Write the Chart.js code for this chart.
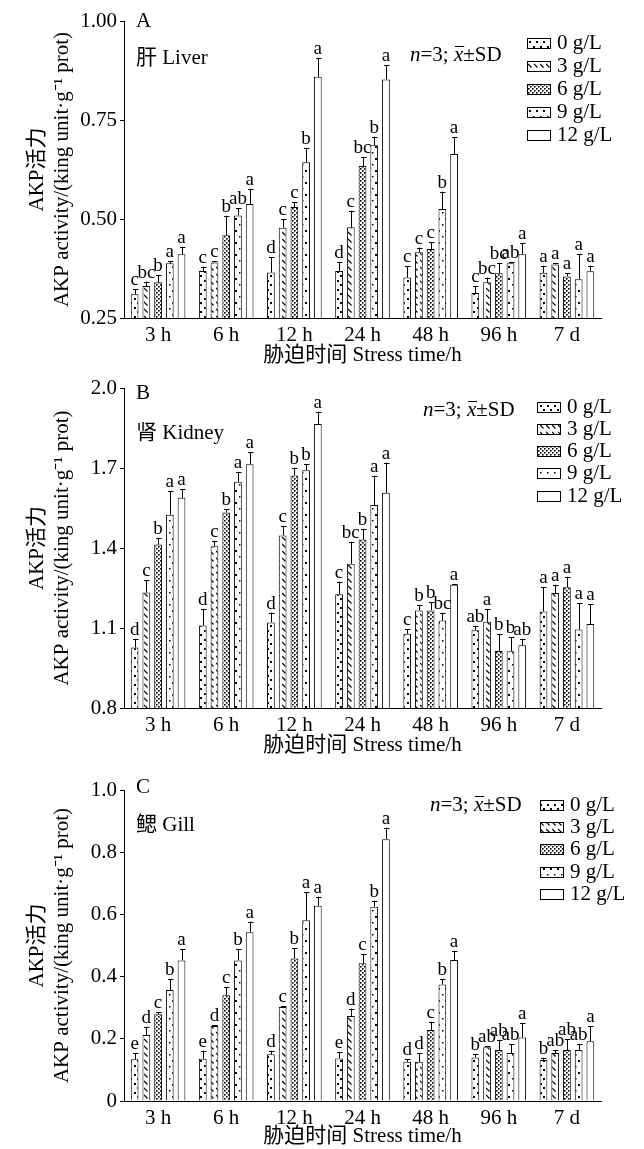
<!DOCTYPE html>
<html>
<head>
<meta charset="utf-8">
<script src="https://cdn.jsdelivr.net/npm/chart.js@4"></script>
<style>
    body { margin: 0; background: #fff; width: 644px; height: 1149px; position: relative; overflow: hidden; }
    canvas { position: absolute; left: 0; }
</style>
</head>
<body>
<canvas id="chartA" width="644" height="368" style="top:0px"></canvas>
<canvas id="chartB" width="644" height="390" style="top:368px"></canvas>
<canvas id="chartC" width="644" height="391" style="top:758px"></canvas>
<script>
var timeLabels = ['3 h', '6 h', '12 h', '24 h', '48 h', '96 h', '7 d'];
var doseLabels = ['0 g/L', '3 g/L', '6 g/L', '9 g/L', '12 g/L'];

// rows = dose (0, 3, 6, 9, 12 g/L), columns = stress time
var liverMean = [
    [0.310, 0.369, 0.365, 0.369, 0.352, 0.313, 0.364],
    [0.331, 0.390, 0.478, 0.479, 0.416, 0.340, 0.385],
    [0.340, 0.459, 0.530, 0.634, 0.424, 0.363, 0.355],
    [0.388, 0.509, 0.643, 0.686, 0.525, 0.388, 0.348],
    [0.411, 0.538, 0.859, 0.852, 0.664, 0.411, 0.368]
];
var liverSD = [
    [0.012, 0.011, 0.038, 0.023, 0.029, 0.018, 0.018],
    [0.011, 0.004, 0.022, 0.042, 0.012, 0.012, 0.004],
    [0.018, 0.049, 0.012, 0.022, 0.017, 0.025, 0.008],
    [0.005, 0.018, 0.037, 0.022, 0.044, 0.004, 0.063],
    [0.019, 0.038, 0.048, 0.037, 0.042, 0.029, 0.014]
];
var liverSig = [
    ['c', 'c', 'd', 'd', 'c', 'c', 'a'],
    ['bc', 'c', 'c', 'c', 'c', 'bc', 'a'],
    ['b', 'b', 'c', 'bc', 'c', 'bc', 'a'],
    ['a', 'ab', 'b', 'b', 'b', 'ab', 'a'],
    ['a', 'a', 'a', 'a', 'a', 'a', 'a']
];

var kidneyMean = [
    [1.027, 1.109, 1.121, 1.227, 1.078, 1.092, 1.162],
    [1.233, 1.407, 1.447, 1.341, 1.166, 1.123, 1.231],
    [1.413, 1.533, 1.672, 1.432, 1.166, 1.014, 1.253],
    [1.525, 1.648, 1.692, 1.561, 1.128, 1.013, 1.094],
    [1.588, 1.714, 1.865, 1.607, 1.262, 1.035, 1.115]
];
var kidneySD = [
    [0.032, 0.061, 0.037, 0.047, 0.017, 0.017, 0.091],
    [0.046, 0.020, 0.036, 0.082, 0.020, 0.047, 0.031],
    [0.025, 0.012, 0.029, 0.038, 0.030, 0.062, 0.039],
    [0.087, 0.036, 0.022, 0.110, 0.030, 0.052, 0.100],
    [0.032, 0.045, 0.046, 0.113, 0.003, 0.024, 0.074]
];
var kidneySig = [
    ['d', 'd', 'd', 'c', 'c', 'ab', 'a'],
    ['c', 'c', 'c', 'bc', 'b', 'a', 'a'],
    ['b', 'b', 'b', 'b', 'b', 'b', 'a'],
    ['a', 'a', 'b', 'a', 'bc', 'b', 'a'],
    ['a', 'a', 'a', 'a', 'a', 'ab', 'a']
];

var gillMean = [
    [0.134, 0.136, 0.150, 0.137, 0.126, 0.140, 0.132],
    [0.212, 0.241, 0.302, 0.273, 0.126, 0.173, 0.154],
    [0.279, 0.340, 0.458, 0.443, 0.228, 0.164, 0.164],
    [0.357, 0.452, 0.581, 0.625, 0.375, 0.154, 0.164],
    [0.452, 0.543, 0.628, 0.842, 0.453, 0.204, 0.192]
];
var gillSD = [
    [0.019, 0.026, 0.012, 0.020, 0.008, 0.010, 0.007],
    [0.027, 0.003, 0.002, 0.024, 0.027, 0.004, 0.010],
    [0.006, 0.026, 0.033, 0.029, 0.027, 0.032, 0.034],
    [0.034, 0.036, 0.090, 0.019, 0.016, 0.028, 0.018],
    [0.037, 0.034, 0.029, 0.037, 0.030, 0.046, 0.049]
];
var gillSig = [
    ['e', 'e', 'd', 'e', 'd', 'b', 'b'],
    ['d', 'd', 'c', 'd', 'd', 'ab', 'ab'],
    ['c', 'c', 'b', 'c', 'c', 'ab', 'ab'],
    ['b', 'b', 'a', 'b', 'b', 'ab', 'ab'],
    ['a', 'a', 'a', 'a', 'a', 'a', 'a']
];

var liverTicks = [0.25, 0.50, 0.75, 1.00];
var liverTickText = ['0.25', '0.50', '0.75', '1.00'];
var kidneyTicks = [0.8, 1.1, 1.4, 1.7, 2.0];
var kidneyTickText = ['0.8', '1.1', '1.4', '1.7', '2.0'];
var gillTicks = [0, 0.2, 0.4, 0.6, 0.8, 1.0];
var gillTickText = ['0', '0.2', '0.4', '0.6', '0.8', '1.0'];

var SERIF = "'Liberation Serif', 'Times New Roman', 'Noto Sans CJK SC', serif";

// fill patterns for the five doses
function makeTile(w, h, draw) {
    var c = document.createElement('canvas');
    c.width = w; c.height = h;
    var g = c.getContext('2d');
    g.fillStyle = '#fff';
    g.fillRect(0, 0, w, h);
    g.fillStyle = '#000';
    g.strokeStyle = '#000';
    draw(g);
    return c;
}
var tiles = [
    makeTile(7, 9, function (g) { g.fillRect(1, 1, 2, 2); g.fillRect(4, 5, 2, 2); }),
    makeTile(6, 7, function (g) { g.lineWidth = 1.2; g.beginPath(); g.moveTo(0, 1); g.lineTo(3.5, 4.5); g.stroke(); }),
    makeTile(4, 4, function (g) { g.fillRect(0, 0, 1.6, 1.6); g.fillRect(2, 2, 1.6, 1.6); }),
    makeTile(7, 12, function (g) { g.fillRect(4, 2, 2, 2); g.fillRect(1, 8, 1.5, 1.5); }),
    makeTile(4, 4, function (g) {})
];

var sigPlugin = {
    id: 'sigBars',
    afterDatasetsDraw: function (chart) {
        var ctx = chart.ctx;
        var y = chart.scales.y;
        ctx.save();
        ctx.strokeStyle = '#000';
        ctx.fillStyle = '#000';
        ctx.lineWidth = 1;
        ctx.font = '19px ' + SERIF;
        ctx.textAlign = 'center';
        ctx.textBaseline = 'alphabetic';
        chart.data.datasets.forEach(function (ds, di) {
            var meta = chart.getDatasetMeta(di);
            meta.data.forEach(function (bar, i) {
                var top = y.getPixelForValue(ds.data[i] + ds.sd[i]);
                var x = Math.round(bar.x) + 0.5;
                ctx.beginPath();
                ctx.moveTo(x, bar.y);
                ctx.lineTo(x, top);
                ctx.moveTo(x - 2.5, Math.round(top) + 0.5);
                ctx.lineTo(x + 3, Math.round(top) + 0.5);
                ctx.stroke();
                ctx.fillText(ds.sig[i], bar.x, top - 4);
            });
        });
        ctx.restore();
    }
};

var notePlugin = {
    id: 'panelNotes',
    afterDraw: function (chart) {
        var o = chart.options.plugins.panelNotes;
        var ctx = chart.ctx;
        ctx.save();
        ctx.fillStyle = '#000';
        ctx.strokeStyle = '#000';
        ctx.textBaseline = 'middle';
        ctx.textAlign = 'left';
        ctx.font = '21px ' + SERIF;
        ctx.fillText(o.letter, 136, o.letterY);
        ctx.fillText(o.organ, 136, o.organY);

        // n=3; x-bar ± SD
        var x = o.noteX, yy = o.noteY;
        ctx.font = 'italic 21px ' + SERIF;
        ctx.fillText('n', x, yy); x += ctx.measureText('n').width;
        ctx.font = '21px ' + SERIF;
        ctx.fillText('=3; ', x, yy); x += ctx.measureText('=3; ').width;
        ctx.font = 'italic 21px ' + SERIF;
        var xw = ctx.measureText('x').width;
        ctx.fillText('x', x, yy);
        ctx.lineWidth = 1;
        ctx.beginPath();
        ctx.moveTo(x + 1, yy - 8.5);
        ctx.lineTo(x + xw + 1, yy - 8.5);
        ctx.stroke();
        x += xw;
        ctx.font = '21px ' + SERIF;
        ctx.fillText('±SD', x, yy);

        // legend
        chart.data.datasets.forEach(function (ds, i) {
            var ry = o.legY[i];
            ctx.fillStyle = ds.backgroundColor;
            ctx.fillRect(o.legX, ry - 5, 23, 10);
            ctx.strokeRect(o.legX + 0.5, Math.round(ry - 5) + 0.5, 23, 10);
            ctx.fillStyle = '#000';
            ctx.fillText(ds.label, o.legX + 30, ry);
        });
        ctx.restore();
    }
};

function makePanel(id, h, areaTop, areaBottom, yMin, yMax, ticks, tickText, mean, sd, sig, notes) {
    var ctx = document.getElementById(id).getContext('2d');
    var datasets = [];
    for (var i = 0; i < doseLabels.length; i++) {
        datasets.push({
            label: doseLabels[i],
            data: mean[i],
            sd: sd[i],
            sig: sig[i],
            backgroundColor: ctx.createPattern(tiles[i], 'repeat'),
            borderColor: '#000',
            borderWidth: 1,
            categoryPercentage: 0.86,
            barPercentage: 0.66
        });
    }
    return new Chart(ctx, {
        type: 'bar',
        data: { labels: timeLabels, datasets: datasets },
        options: {
            responsive: false,
            animation: false,
            layout: { padding: { left: 0, right: 43, top: areaTop, bottom: 0 } },
            plugins: {
                legend: { display: false },
                tooltip: { enabled: false },
                panelNotes: notes
            },
            scales: {
                x: {
                    grid: { display: false, drawTicks: false },
                    border: { display: true, color: '#000', width: 1 },
                    ticks: { color: '#000', font: { family: SERIF, size: 21 }, padding: 5, maxRotation: 0, autoSkip: false },
                    title: { display: true, text: '胁迫时间 Stress time/h', color: '#000', font: { family: SERIF, size: 21 }, padding: { top: 0, bottom: 0 } },
                    afterFit: function (s) { s.height = h - areaBottom; }
                },
                y: {
                    min: yMin,
                    max: yMax,
                    afterBuildTicks: function (s) {
                        s.ticks = ticks.map(function (v) { return { value: v }; });
                    },
                    ticks: {
                        color: '#000',
                        font: { family: SERIF, size: 21 },
                        padding: 3,
                        callback: function (v, i) { return tickText[i]; }
                    },
                    grid: { display: true, drawOnChartArea: false, drawTicks: true, tickLength: 4, color: '#000' },
                    border: { color: '#000', width: 1 },
                    title: {
                        display: true,
                        text: ['AKP活力', 'AKP activity/(king unit·g⁻¹ prot)'],
                        color: '#000',
                        font: { family: SERIF, size: 21, lineHeight: 1.2 },
                        padding: { top: 25, bottom: 0 }
                    },
                    afterFit: function (s) { s.width = 124; }
                }
            }
        },
        plugins: [sigPlugin, notePlugin]
    });
}

makePanel('chartA', 368, 21, 318, 0.25, 1.00, liverTicks, liverTickText, liverMean, liverSD, liverSig, {
    letter: 'A', letterY: 21, organ: '肝 Liver', organY: 58,
    noteX: 410, noteY: 55, legX: 527, legY: [43, 66, 89, 112, 135]
});
makePanel('chartB', 390, 20, 340, 0.8, 2.0, kidneyTicks, kidneyTickText, kidneyMean, kidneySD, kidneySig, {
    letter: 'B', letterY: 25, organ: '肾 Kidney', organY: 65,
    noteX: 423, noteY: 42, legX: 537, legY: [39, 61, 83, 105, 128]
});
makePanel('chartC', 391, 32, 343, 0, 1.0, gillTicks, gillTickText, gillMean, gillSD, gillSig, {
    letter: 'C', letterY: 29, organ: '鳃 Gill', organY: 67,
    noteX: 430, noteY: 47, legX: 540, legY: [47, 69, 91, 114, 136]
});
</script>
</body>
</html>
